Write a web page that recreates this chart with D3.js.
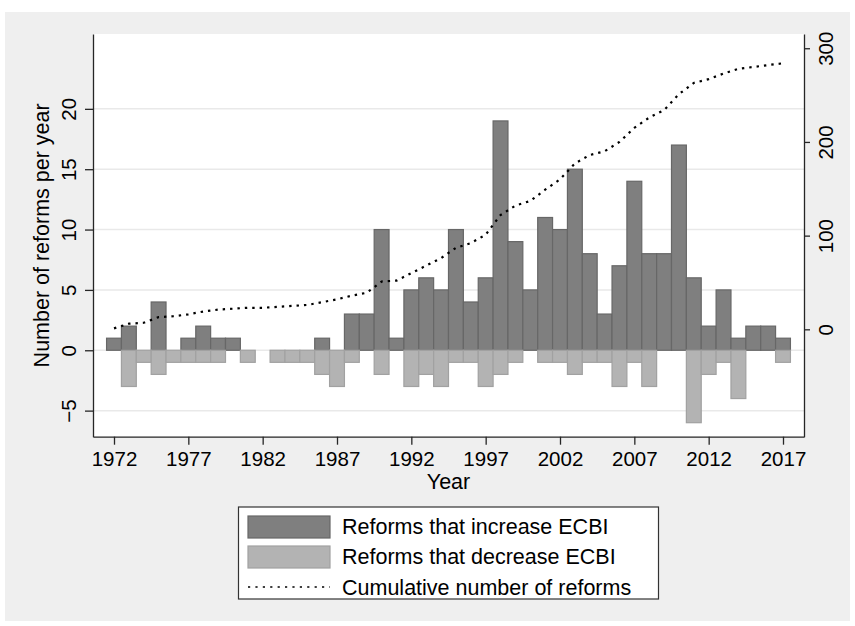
<!DOCTYPE html>
<html>
<head>
<meta charset="utf-8">
<script src="https://cdn.jsdelivr.net/npm/d3@7"></script>
<style>
  html, body { margin: 0; padding: 0; background: #ffffff; }
  svg { display: block; font-family: "Liberation Sans", Arial, Helvetica, sans-serif; }
</style>
</head>
<body>
<svg id="chart" width="855" height="626"></svg>
<script>
// ECBI reforms per year, 1972-2017
const years = d3.range(1972, 2018);
const increase = [1, 2, 0, 4, 0, 1, 2, 1, 1, 0,
                  0, 0, 0, 0, 1, 0, 3, 3, 10, 1,
                  5, 6, 5, 10, 4, 6, 19, 9, 5, 11,
                  10, 15, 8, 3, 7, 14, 8, 8, 17, 6,
                  2, 5, 1, 2, 2, 1];
const decrease = [0, -3, -1, -2, -1, -1, -1, -1, 0, -1,
                  0, -1, -1, -1, -2, -3, -1, 0, -2, 0,
                  -3, -2, -3, -1, -1, -3, -2, -1, 0, -1,
                  -1, -2, -1, -1, -3, -1, -3, 0, 0, -6,
                  -2, -1, -4, 0, 0, -1];
const cumulative = [1, 6, 7, 13, 14, 16, 19, 21, 22, 23,
                    23, 24, 25, 26, 29, 32, 36, 39, 51, 52,
                    60, 68, 76, 87, 92, 101, 122, 132, 137, 149,
                    160, 177, 186, 190, 200, 215, 226, 234, 251, 263,
                    267, 273, 278, 280, 282, 284];
const xTicks = [1972, 1977, 1982, 1987, 1992, 1997, 2002, 2007, 2012, 2017];
const leftTicks = [-5, 0, 5, 10, 15, 20];
const rightTicks = [0, 100, 200, 300];
const legendLabels = ["Reforms that increase ECBI", "Reforms that decrease ECBI", "Cumulative number of reforms"];

const svg = d3.select("#chart");
const plot = { left: 93, right: 804, top: 34, bottom: 436.7 };

const colors = {
  incFill: "#7f7f7f", incStroke: "#676767",
  decFill: "#b3b3b3", decStroke: "#a1a1a1",
  grid: "#e9e9e9", axis: "#262626"
};

// graph region
svg.append("rect").attr("x", 5).attr("y", 12).attr("width", 845).attr("height", 609).attr("fill", "#efefef");
svg.append("rect").attr("x", plot.left).attr("y", plot.top)
  .attr("width", plot.right - plot.left).attr("height", plot.bottom - plot.top).attr("fill", "#ffffff");

const x = d3.scaleLinear().domain([1970.5875, 2018.4125]).range([plot.left, plot.right]);
const yL = d3.scaleLinear().domain([-7.16, 26.2]).range([plot.bottom, plot.top]);
const yR = d3.scaleLinear().domain([-114.6, 315.2]).range([plot.bottom, plot.top]);

// gridlines
svg.append("g").selectAll("line").data(leftTicks).join("line")
  .attr("x1", plot.left).attr("x2", plot.right)
  .attr("y1", d => yL(d)).attr("y2", d => yL(d))
  .attr("stroke", colors.grid).attr("stroke-width", 1.5);

const rows = years.map((yr, i) => ({ yr, inc: increase[i], dec: decrease[i], cum: cumulative[i] }));

// bars above zero
svg.append("g").selectAll("rect").data(rows.filter(d => d.inc > 0)).join("rect")
  .attr("x", d => x(d.yr - 0.5)).attr("width", d => x(d.yr + 0.5) - x(d.yr - 0.5))
  .attr("y", d => yL(d.inc)).attr("height", d => yL(0) - yL(d.inc))
  .attr("fill", colors.incFill).attr("stroke", colors.incStroke).attr("stroke-width", 1.2);

// bars below zero
svg.append("g").selectAll("rect").data(rows.filter(d => d.dec < 0)).join("rect")
  .attr("x", d => x(d.yr - 0.5)).attr("width", d => x(d.yr + 0.5) - x(d.yr - 0.5))
  .attr("y", yL(0)).attr("height", d => yL(d.dec) - yL(0))
  .attr("fill", colors.decFill).attr("stroke", colors.decStroke).attr("stroke-width", 1.2);

// cumulative line on the right axis
const line = d3.line().x(d => x(d.yr)).y(d => yR(d.cum));
svg.append("path").datum(rows).attr("d", line)
  .attr("fill", "none").attr("stroke", "#000").attr("stroke-width", 2.2)
  .attr("stroke-dasharray", "2.4,5");

// axes
const fontTick = "20.5px";
const styleAxis = g => {
  g.select(".domain").attr("stroke", colors.axis).attr("stroke-width", 1.3);
  g.selectAll(".tick line").attr("stroke", colors.axis).attr("stroke-width", 1.3);
  g.selectAll(".tick text").attr("fill", "#000").style("font-size", fontTick)
    .style("font-family", "'Liberation Sans', Arial, sans-serif");
};

const gx = svg.append("g").attr("transform", `translate(0,${plot.bottom})`)
  .call(d3.axisBottom(x).tickValues(xTicks).tickFormat(d3.format("d")).tickSize(8).tickSizeOuter(0).tickPadding(6));
styleAxis(gx);
gx.selectAll(".tick text").attr("dy", null).attr("y", 29);

const gl = svg.append("g").attr("transform", `translate(${plot.left},0)`)
  .call(d3.axisLeft(yL).tickValues(leftTicks).tickSize(8).tickSizeOuter(0));
styleAxis(gl);
gl.selectAll(".tick text").attr("x", null).attr("dy", null)
  .attr("text-anchor", "middle").attr("transform", "translate(-17,0) rotate(-90)");

const gr = svg.append("g").attr("transform", `translate(${plot.right},0)`)
  .call(d3.axisRight(yR).tickValues(rightTicks).tickSize(6).tickSizeOuter(0));
styleAxis(gr);
gr.selectAll(".tick text").attr("x", null).attr("dy", null)
  .attr("text-anchor", "middle").attr("transform", "translate(29,0) rotate(-90)");

// axis titles
svg.append("text").attr("x", (plot.left + plot.right) / 2).attr("y", 489)
  .attr("text-anchor", "middle").style("font-size", "21.5px").text("Year");
svg.append("text").attr("transform", `translate(48.5,${(plot.top + plot.bottom) / 2}) rotate(-90)`)
  .attr("text-anchor", "middle").style("font-size", "21.5px").text("Number of reforms per year");

// legend
const lg = svg.append("g");
lg.append("rect").attr("x", 238.5).attr("y", 507).attr("width", 420).attr("height", 92)
  .attr("fill", "#fff").attr("stroke", "#333").attr("stroke-width", 1.2);
lg.append("rect").attr("x", 248).attr("y", 516).attr("width", 82).attr("height", 22)
  .attr("fill", colors.incFill).attr("stroke", colors.incStroke).attr("stroke-width", 1.2);
lg.append("rect").attr("x", 248).attr("y", 546).attr("width", 82).attr("height", 22)
  .attr("fill", colors.decFill).attr("stroke", colors.decStroke).attr("stroke-width", 1.2);
lg.append("line").attr("x1", 248).attr("x2", 330).attr("y1", 587).attr("y2", 587)
  .attr("stroke", "#000").attr("stroke-width", 1.6).attr("stroke-dasharray", "2.2,5.2");
const baselines = [533.5, 564, 594.5];
lg.selectAll("text.lab").data(legendLabels).join("text").attr("class", "lab")
  .attr("x", 342).attr("y", (d, i) => baselines[i])
  .style("font-size", "21.5px").attr("fill", "#000").text(d => d);
</script>
</body>
</html>
